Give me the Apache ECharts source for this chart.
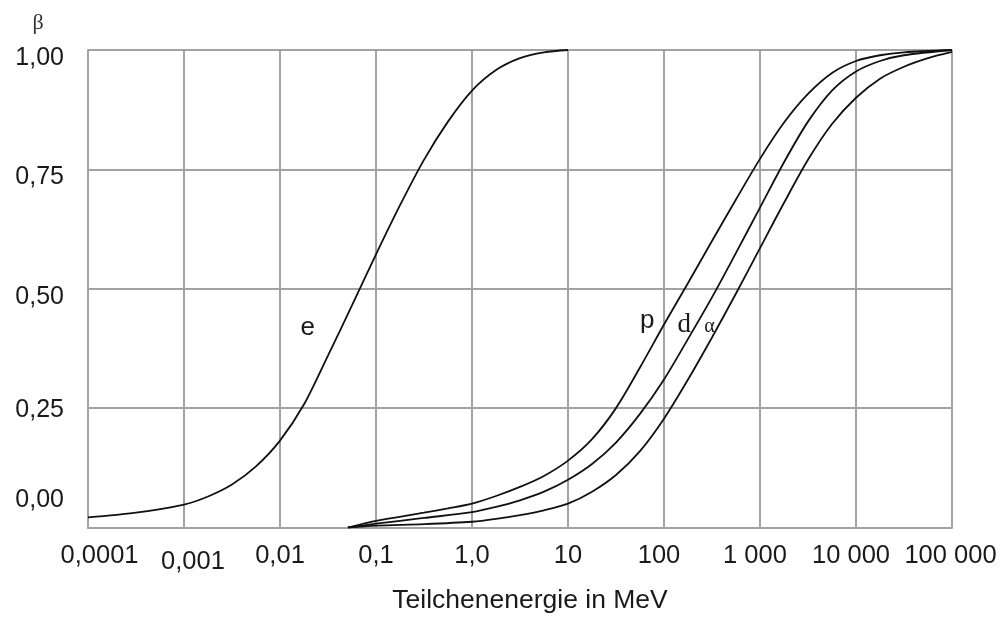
<!DOCTYPE html>
<html>
<head>
<meta charset="utf-8">
<script src="https://cdn.jsdelivr.net/npm/echarts@6/dist/echarts.min.js"></script>
<style>
html,body{margin:0;padding:0;background:#fff;}
#c{width:1005px;height:619px;}
</style>
</head>
<body>
<div id="c"></div>
<script>
// X tick labels (decades 1e-4 .. 1e5)
const xTickLabels = ['0,0001','0,001','0,01','0,1','1,0','10','100','1 000','10 000','100 000'];
// Y tick labels
const yTickLabels = ['0,00','0,25','0,50','0,75','1,00'];

// Energies (MeV) and beta values
const eE    = [0.0001,0.000316,0.001,0.00178,0.00316,0.00562,0.01,0.0178,0.0316,0.0562,0.1,0.178,0.316,0.562,1.0,1.78,3.16,5.62,10];
const eBeta = [0.021,0.031,0.048,0.065,0.09,0.128,0.182,0.258,0.36,0.465,0.572,0.675,0.77,0.85,0.915,0.958,0.983,0.995,1.0];

const pE    = [0.051,0.1,0.316,0.562,1.0,1.78,3.16,5.62,10,17.8,31.6,56.2,100,178,316,562,1000,1780,3160,5620,10000,17800,31600,100000];
const pBeta = [0.0,0.014,0.031,0.04,0.05,0.066,0.085,0.108,0.14,0.185,0.25,0.335,0.425,0.512,0.6,0.687,0.772,0.848,0.908,0.952,0.977,0.989,0.995,1.0];

const dE    = [0.051,0.1,0.316,1.0,1.78,3.16,5.62,10,17.8,31.6,56.2,100,178,316,562,1000,1780,3160,5620,10000,17800,31600,100000];
const dBeta = [0.0,0.008,0.02,0.032,0.043,0.057,0.075,0.10,0.133,0.178,0.238,0.31,0.395,0.482,0.575,0.67,0.765,0.85,0.915,0.955,0.977,0.989,1.0];

const aE    = [0.051,0.1,0.316,1.0,1.78,3.16,5.62,10,17.8,31.6,56.2,100,178,316,562,1000,1780,3160,5620,10000,17800,31600,56200,100000];
const aBeta = [0.0,0.004,0.007,0.012,0.018,0.026,0.036,0.05,0.075,0.11,0.16,0.228,0.31,0.398,0.49,0.585,0.68,0.77,0.845,0.9,0.94,0.965,0.983,0.996];

function zip(xs, ys){ return xs.map((x,i)=>[x, ys[i]]); }

const FONT = '"Liberation Sans", Arial, sans-serif';
const SERIF = '"Liberation Serif", "DejaVu Serif", serif';
const GRIDC = '#a0a2a6';
const TXT = '#1a1a1a';

function curve(name, xs, ys, lbl){
  return {
    name: name,
    type: 'line',
    data: zip(xs, ys),
    showSymbol: false,
    smooth: 0.3,
    lineStyle: {color: '#111', width: 1.8},
    silent: true,
    markPoint: lbl ? {
      symbol: 'circle', symbolSize: 0, silent: true,
      data: [{coord: lbl.coord, value: lbl.text}],
      label: {show: true, position: 'inside', formatter: lbl.text,
        fontFamily: lbl.font, fontSize: lbl.size, color: TXT}
    } : undefined
  };
}

// per-label nudges to mimic the hand-set labels of the original
const xRich = {
  n: {fontFamily: FONT, fontSize: 25.5, color: TXT},
  r1: {fontFamily: FONT, fontSize: 25.5, color: TXT, padding: [0, 0, 0, 23]},
  r2: {fontFamily: FONT, fontSize: 25.5, color: TXT, padding: [6, 0, 0, 18]},
  l1: {fontFamily: FONT, fontSize: 25.5, color: TXT, padding: [0, 10, 0, 0]},
  l2: {fontFamily: FONT, fontSize: 25.5, color: TXT, padding: [0, 3, 0, 0]}
};
const xStyleKey = ['r1','r2','n','n','n','n','l1','l1','l1','l2'];

const yRich = {
  a: {fontFamily: FONT, fontSize: 25, color: TXT, padding: [16, 0, 0, 0]},
  b: {fontFamily: FONT, fontSize: 25, color: TXT, padding: [4, 0, 0, 0]},
  z: {fontFamily: FONT, fontSize: 25, color: TXT, padding: [0, 0, 54, 0]}
};
const yStyleKey = ['z','b','a','a','a'];

const chart = echarts.init(document.getElementById('c'), null, {renderer: 'canvas'});
chart.setOption({
  animation: false,
  backgroundColor: '#fff',
  grid: {left: 88, right: 53, top: 50, bottom: 89, containLabel: false},
  xAxis: {
    type: 'log', logBase: 10, min: 0.0001, max: 100000, splitNumber: 9,
    name: 'Teilchenenergie in MeV', nameLocation: 'middle', nameGap: 73,
    nameTextStyle: {fontFamily: FONT, fontSize: 26.5, color: TXT, verticalAlign: 'middle', padding: [0, 0, 0, 20]},
    axisLine: {show: true, lineStyle: {color: GRIDC, width: 2}},
    axisTick: {show: false},
    minorTick: {show: false},
    splitLine: {show: true, lineStyle: {color: GRIDC, width: 2}},
    axisLabel: {
      margin: 15, fontFamily: FONT, fontSize: 25.5, color: TXT,
      formatter: function(v){
        const k = Math.round(Math.log10(v)) + 4;
        const t = xTickLabels[k];
        return t ? '{' + xStyleKey[k] + '|' + t + '}' : '';
      },
      rich: xRich
    }
  },
  yAxis: {
    type: 'value', min: 0, max: 1, interval: 0.25,
    name: 'β', nameLocation: 'end', nameGap: 16,
    nameTextStyle: {fontFamily: SERIF, fontSize: 22, color: '#333', align: 'center', padding: [0, 100, 0, 0]},
    axisLine: {show: true, lineStyle: {color: GRIDC, width: 2}},
    axisTick: {show: false},
    splitLine: {show: true, lineStyle: {color: GRIDC, width: 2}},
    axisLabel: {
      margin: 24, fontFamily: FONT, fontSize: 25, color: TXT,
      formatter: function(v){
        const k = Math.round(v / 0.25);
        const t = yTickLabels[k];
        return t ? '{' + yStyleKey[k] + '|' + t + '}' : '';
      },
      rich: yRich
    }
  },
  series: [
    curve('e', eE, eBeta, {coord: [0.0195, 0.418], text: 'e', font: FONT, size: 26}),
    curve('p', pE, pBeta, {coord: [67, 0.432], text: 'p', font: FONT, size: 26}),
    curve('d', dE, dBeta, {coord: [163, 0.425], text: 'd', font: SERIF, size: 27}),
    curve('α', aE, aBeta, {coord: [297, 0.421], text: 'α', font: SERIF, size: 20})
  ]
});
</script>
</body>
</html>
